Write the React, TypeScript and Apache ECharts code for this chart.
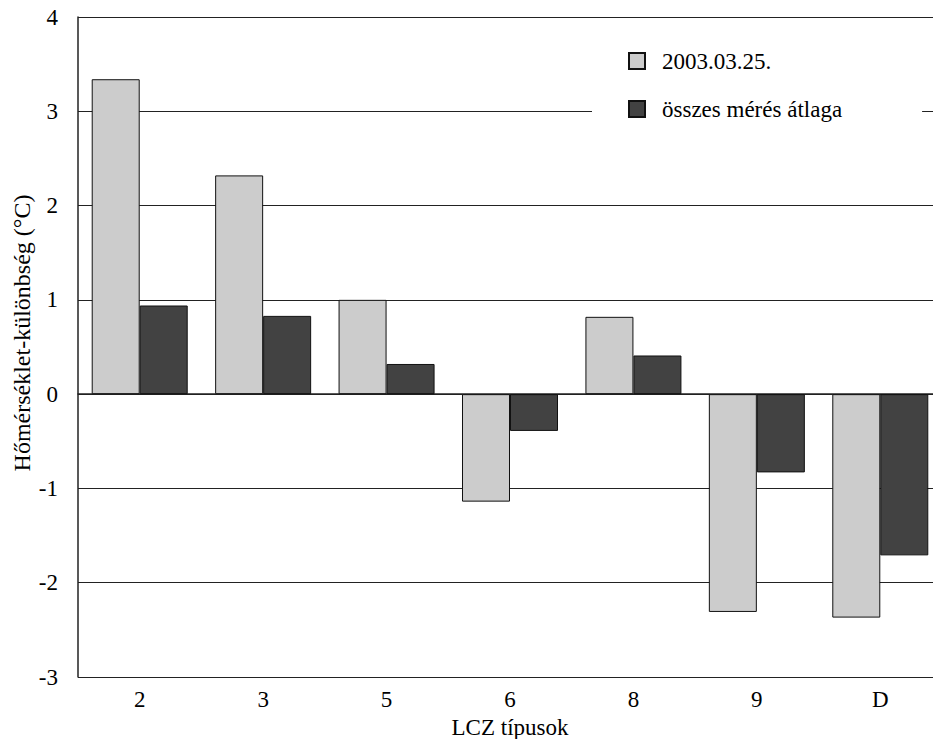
import React, { useEffect, useRef } from "react";
import * as echarts from "echarts";

const categories = ["2", "3", "5", "6", "8", "9", "D"];
const seriesNames = ["2003.03.25.", "összes mérés átlaga"];
const dayValues = [3.34, 2.32, 1.0, -1.14, 0.82, -2.31, -2.37];
const avgValues = [0.94, 0.83, 0.32, -0.39, 0.41, -0.83, -1.71];
const yTitle = "Hőmérséklet-különbség (°C)";
const xTitle = "LCZ típusok";

const FONT = "Liberation Serif";

export default function App() {
  const ref = useRef<HTMLDivElement>(null);
  useEffect(() => {
    if (!ref.current) return;
    const chart = echarts.init(ref.current, undefined, { renderer: "svg" });
    chart.setOption({
      animation: false,
      backgroundColor: "#ffffff",
      textStyle: { fontFamily: FONT, color: "#000" },
      grid: { left: 78, width: 864, top: 17, height: 660, containLabel: false },
      legend: {
        data: seriesNames,
        orient: "vertical",
        left: 592,
        top: 30,
        padding: [19.5, 80, 22, 36],
        backgroundColor: "#ffffff",
        itemWidth: 16,
        itemHeight: 16,
        itemGap: 25,
        icon: "rect",
        textStyle: {
          fontFamily: FONT,
          fontSize: 23,
          color: "#000",
          lineHeight: 23,
          padding: [0, 0, 0, 12],
        },
      },
      xAxis: {
        type: "category",
        data: categories,
        name: xTitle,
        nameLocation: "middle",
        nameGap: 39,
        nameTextStyle: { fontFamily: FONT, fontSize: 23, lineHeight: 22, color: "#000" },
        axisLine: { show: true, lineStyle: { color: "#222", width: 1.5 } },
        axisTick: { show: false },
        axisLabel: { fontFamily: FONT, fontSize: 23, color: "#000", margin: 10.5 },
        splitLine: { show: false },
      },
      yAxis: {
        type: "value",
        min: -3,
        max: 4,
        interval: 1,
        axisLine: { show: true, lineStyle: { color: "#222", width: 1.5 } },
        axisTick: { show: false },
        axisLabel: { fontFamily: FONT, fontSize: 23, color: "#000", margin: 20 },
        splitLine: { show: true, lineStyle: { color: "#222", width: 1.2 } },
      },
      graphic: [
        {
          type: "text",
          x: 22,
          y: 333,
          rotation: Math.PI / 2,
          style: {
            text: yTitle,
            fontFamily: FONT,
            fontSize: 24,
            fill: "#000",
            textAlign: "center",
            textVerticalAlign: "middle",
          },
        },
      ],
      series: [
        {
          name: seriesNames[0],
          type: "bar",
          data: dayValues,
          barWidth: 48,
          barGap: "0%",
          itemStyle: { color: "#cccccc", borderColor: "#111", borderWidth: 1 },
        },
        {
          name: seriesNames[1],
          type: "bar",
          data: avgValues,
          barWidth: 48,
          barGap: "0%",
          itemStyle: { color: "#424242", borderColor: "#111", borderWidth: 1 },
        },
      ],
    });
    return () => chart.dispose();
  }, []);
  return (
    <div
      style={{
        position: "fixed",
        left: 0,
        top: 0,
        width: 933,
        height: 760,
        overflow: "hidden",
        background: "#fff",
      }}
    >
      <div ref={ref} style={{ width: 950, height: 760 }} />
    </div>
  );
}
